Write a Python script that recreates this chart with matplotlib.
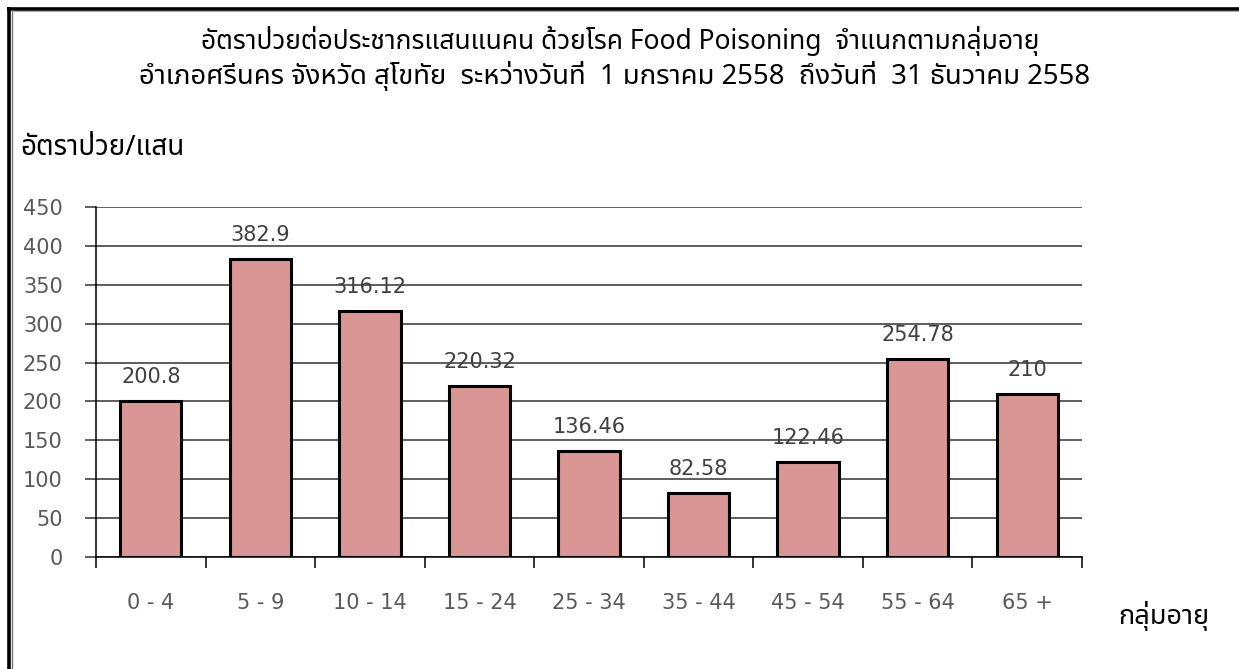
import matplotlib
matplotlib.use("Agg")
import matplotlib.pyplot as plt
from matplotlib.lines import Line2D

plt.rcParams['font.family'] = ['Noto Sans Thai', 'DejaVu Sans']

# --- ข้อมูล ---
age_groups = ["0 - 4", "5 - 9", "10 - 14", "15 - 24", "25 - 34",
              "35 - 44", "45 - 54", "55 - 64", "65 +"]
rates = [200.8, 382.9, 316.12, 220.32, 136.46, 82.58, 122.46, 254.78, 210]
rate_labels = ["200.8", "382.9", "316.12", "220.32", "136.46",
               "82.58", "122.46", "254.78", "210"]
y_ticks = [0, 50, 100, 150, 200, 250, 300, 350, 400, 450]

title1 = "อัตราป่วยต่อประชากรแสนแนคน ด้วยโรค Food Poisoning  จำแนกตามกลุ่มอายุ"
title2 = "อำเภอศรีนคร จังหวัด สุโขทัย  ระหว่างวันที่  1 มกราคม 2558  ถึงวันที่  31 ธันวาคม 2558"
y_title = "อัตราป่วย/แสน"
x_title = "กลุ่มอายุ"

W, H = 1239, 669
BAR_COLOR = '#D99694'
GRID_COLOR = '#333333'
TICK_COLOR = '#595959'
NUM_FONT = ['DejaVu Sans']

fig = plt.figure(figsize=(W / 100, H / 100), dpi=100)
ax = fig.add_axes([96 / W, 1 - 557 / H, 986 / W, 350 / H])

x = list(range(len(age_groups)))
bars = ax.bar(x, rates, width=0.56, color=BAR_COLOR, edgecolor='black',
              linewidth=2.2, zorder=3)

# ป้ายตัวเลขบนแท่ง
for xi, v, lab in zip(x, rates, rate_labels):
    ax.annotate(lab, (xi, v), xytext=(0, 10), textcoords='offset points',
                ha='center', va='bottom', fontsize=15, color='#404040',
                family=NUM_FONT)

ax.set_xlim(-0.5, len(age_groups) - 0.5)
ax.set_ylim(0, 450)
ax.set_yticks(y_ticks)
ax.yaxis.grid(True, color=GRID_COLOR, linewidth=1.1)
ax.set_axisbelow(True)

# ขีดแกน x ที่ขอบกลุ่ม, ป้ายที่กึ่งกลาง
ax.set_xticks([i - 0.5 for i in range(len(age_groups) + 1)])
ax.set_xticklabels([])
ax.set_xticks(x, minor=True)
ax.set_xticklabels(age_groups, minor=True)
ax.tick_params(axis='x', which='major', length=8, width=1.1, color='black',
               direction='out')
ax.tick_params(axis='x', which='minor', length=0, pad=26,
               labelsize=15, labelcolor=TICK_COLOR)
ax.tick_params(axis='y', length=8, width=1.1, color=GRID_COLOR, pad=16,
               labelsize=15, labelcolor=TICK_COLOR)
for lab in ax.get_xticklabels(minor=True) + ax.get_yticklabels():
    lab.set_family(NUM_FONT)

for side in ['top', 'right']:
    ax.spines[side].set_visible(False)
ax.spines['left'].set_linewidth(1.1)
ax.spines['bottom'].set_linewidth(1.1)

# ชื่อกราฟและชื่อแกน
fig.text(620 / W, 1 - 41 / H, title1, ha='center', va='center', fontsize=19)
fig.text(615 / W, 1 - 76 / H, title2, ha='center', va='center', fontsize=19.8)
fig.text(20 / W, 1 - 148 / H, y_title, ha='left', va='center', fontsize=20)
fig.text(1118 / W, 1 - 616 / H, x_title, ha='left', va='center', fontsize=19.5)

# กรอบภาพ
fig.add_artist(Line2D([7 / W, 1], [1 - 8.5 / H, 1 - 8.5 / H], color='black',
                      linewidth=2.6, solid_capstyle='butt'))
fig.add_artist(Line2D([8.5 / W, 8.5 / W], [0, 1 - 7 / H], color='black',
                      linewidth=2.6, solid_capstyle='butt'))
fig.add_artist(Line2D([11.5 / W, 11.5 / W], [0, 1 - 10 / H], color='#777777',
                      linewidth=1.0, solid_capstyle='butt'))
fig.add_artist(Line2D([11 / W, 1], [1 - 10.8 / H, 1 - 10.8 / H], color='#aaaaaa',
                      linewidth=0.8, solid_capstyle='butt'))

fig.savefig("out.png", dpi=100)
